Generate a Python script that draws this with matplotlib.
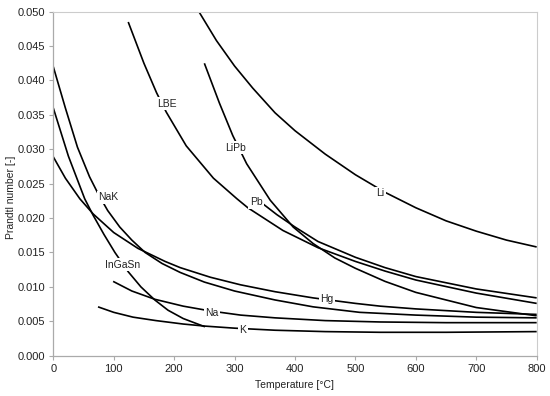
import matplotlib
matplotlib.use("Agg")
import matplotlib.pyplot as plt

plt.rcParams['font.family'] = ['Liberation Sans', 'DejaVu Sans']

# Data (Temperature [°C], Prandtl number [-])
li_T = [241, 270, 300, 330, 367, 400, 450, 500, 550, 600, 650, 700, 750, 800]
li_Pr = [0.0500, 0.0458, 0.0421, 0.0389, 0.0353, 0.0327, 0.0293, 0.0263, 0.0237,
         0.0215, 0.0196, 0.0181, 0.0168, 0.0158]

lbe_T = [124, 150, 171, 187, 220, 265, 304, 322, 380, 438, 500, 549, 600, 700, 800]
lbe_Pr = [0.0485, 0.0425, 0.0382, 0.0354, 0.0305, 0.0258, 0.0228, 0.0215, 0.0182,
          0.0157, 0.0137, 0.0123, 0.0110, 0.0091, 0.0076]

pb_T = [335, 345, 370, 400, 438, 500, 549, 600, 700, 800]
pb_Pr = [0.0228, 0.0222, 0.0205, 0.0187, 0.0166, 0.0143, 0.0128, 0.0115, 0.0097, 0.0084]

lipb_T = [250, 275, 297, 320, 359, 397, 430, 466, 500, 549, 600, 700, 800]
lipb_Pr = [0.0425, 0.0367, 0.0320, 0.0279, 0.0226, 0.0187, 0.0163, 0.0142, 0.0127,
           0.0108, 0.0092, 0.0070, 0.0058]

nak_T = [0, 20, 40, 60, 75, 90, 110, 130, 152, 180, 210, 250, 300, 367, 430, 507,
         600, 700, 800]
nak_Pr = [0.0420, 0.0360, 0.0303, 0.0260, 0.0234, 0.0211, 0.0187, 0.0168, 0.0150,
          0.0134, 0.0121, 0.0107, 0.0094, 0.0081, 0.0071, 0.0063, 0.0059, 0.0056, 0.0055]

ingasn_T = [0, 25, 52, 66, 84, 102, 124, 145, 168, 190, 215, 251]
ingasn_Pr = [0.0360, 0.0290, 0.0228, 0.0204, 0.0176, 0.0150, 0.0122, 0.0100, 0.0081,
             0.0066, 0.0054, 0.0042]

hg_T = [0, 20, 44, 66, 100, 140, 185, 210, 260, 310, 367, 430, 500, 541, 600, 700, 800]
hg_Pr = [0.0289, 0.0258, 0.0228, 0.0206, 0.0179, 0.0156, 0.0137, 0.0128, 0.0114,
         0.0103, 0.0093, 0.0084, 0.0076, 0.0072, 0.0068, 0.0063, 0.0060]

na_T = [99, 130, 168, 215, 260, 310, 367, 450, 541, 650, 800]
na_Pr = [0.0108, 0.0094, 0.0082, 0.0072, 0.0065, 0.0059, 0.0055, 0.0051, 0.0049,
         0.0048, 0.0048]

k_T = [74, 100, 132, 170, 215, 251, 300, 367, 450, 541, 650, 800]
k_Pr = [0.0071, 0.0063, 0.0056, 0.0051, 0.0046, 0.0043, 0.0040, 0.0037, 0.0035,
        0.0034, 0.0034, 0.0035]

series = [
    ("Li", li_T, li_Pr, (541, 0.0236)),
    ("LBE", lbe_T, lbe_Pr, (188, 0.0366)),
    ("Pb", pb_T, pb_Pr, (336, 0.0223)),
    ("LiPb", lipb_T, lipb_Pr, (302, 0.0302)),
    ("NaK", nak_T, nak_Pr, (91, 0.0230)),
    ("InGaSn", ingasn_T, ingasn_Pr, (114, 0.0132)),
    ("Hg", hg_T, hg_Pr, (453, 0.0082)),
    ("Na", na_T, na_Pr, (263, 0.0062)),
    ("K", k_T, k_Pr, (314, 0.0037)),
]

x_ticks = [0, 100, 200, 300, 400, 500, 600, 700, 800]
y_ticks = [0.000, 0.005, 0.010, 0.015, 0.020, 0.025, 0.030, 0.035, 0.040, 0.045, 0.050]

fig = plt.figure(figsize=(5.5, 3.96), dpi=100)
ax = fig.add_axes([0.0969, 0.1018, 0.8789, 0.8687])

for name, T, Pr, pos in series:
    ax.plot(T, Pr, color='black', lw=1.2, solid_capstyle='butt',
            solid_joinstyle='round', zorder=2)
    ax.text(pos[0], pos[1], name, ha='center', va='center', fontsize=7.5,
            color='#222222', zorder=3,
            bbox=dict(boxstyle='square,pad=0.15', fc='white', ec='none'))

ax.set_xlim(0, 800)
ax.set_ylim(0, 0.050)
ax.set_xticks(x_ticks)
ax.set_yticks(y_ticks)
ax.set_yticklabels([f"{v:.3f}" for v in y_ticks])
ax.tick_params(axis='both', direction='out', length=3, width=0.8, color='#aaaaaa',
               labelsize=8, labelcolor='#222222', pad=3)

for side in ['top', 'right']:
    ax.spines[side].set_color('#cccccc')
    ax.spines[side].set_linewidth(0.8)
for side in ['left', 'bottom']:
    ax.spines[side].set_color('#aaaaaa')
    ax.spines[side].set_linewidth(0.9)

ax.set_xlabel("Temperature [°C]", fontsize=7.5, color='#222222')
ax.xaxis.set_label_coords(0.5, -0.072)
ax.set_ylabel("Prandtl number [-]", fontsize=7.5, color='#222222')
ax.yaxis.set_label_coords(-0.077, 0.46)

fig.savefig("out.png", dpi=100)
